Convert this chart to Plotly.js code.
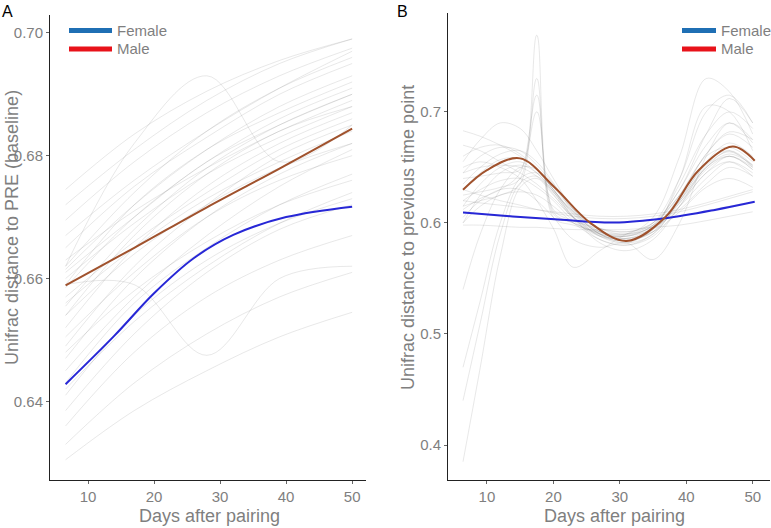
<!DOCTYPE html>
<html>
<head>
<meta charset="utf-8">
<script src="https://cdn.plot.ly/plotly-3.0.1.min.js"></script>
<style>html,body{margin:0;padding:0;background:#fff;}#chart{width:771px;height:528px;}</style>
</head>
<body>
<div id="chart"></div>
<script>
// ---------- Panel A data ----------
const daysA = [6.6, 17, 28, 39, 50];
const greyLinesA = [
  [0.6305, 0.6385, 0.6450, 0.6505, 0.6545],
  [0.6330, 0.6430, 0.6510, 0.6570, 0.6610],
  [0.6360, 0.6480, 0.6570, 0.6630, 0.6670],
  [0.6385, 0.6510, 0.6610, 0.6680, 0.6720],
  [0.6410, 0.6540, 0.6630, 0.6690, 0.6730],
  [0.6430, 0.6560, 0.6650, 0.6720, 0.6770],
  [0.6450, 0.6570, 0.6670, 0.6750, 0.6810],
  [0.6470, 0.6600, 0.6700, 0.6770, 0.6820],
  [0.6490, 0.6620, 0.6720, 0.6800, 0.6850],
  [0.6505, 0.6610, 0.6700, 0.6760, 0.6800],
  [0.6520, 0.6650, 0.6750, 0.6820, 0.6870],
  [0.6540, 0.6640, 0.6720, 0.6780, 0.6820],
  [0.6555, 0.6680, 0.6780, 0.6850, 0.6900],
  [0.6570, 0.6660, 0.6740, 0.6810, 0.6860],
  [0.6585, 0.6700, 0.6790, 0.6860, 0.6910],
  [0.6600, 0.6690, 0.6770, 0.6830, 0.6880],
  [0.6615, 0.6720, 0.6810, 0.6880, 0.6930],
  [0.6630, 0.6710, 0.6780, 0.6840, 0.6890],
  [0.6650, 0.6750, 0.6830, 0.6900, 0.6950],
  [0.6670, 0.6760, 0.6840, 0.6910, 0.6970],
  [0.6695, 0.6790, 0.6870, 0.6930, 0.6975],
  [0.6720, 0.6810, 0.6890, 0.6950, 0.6990],
  [0.6745, 0.6835, 0.6905, 0.6955, 0.6990],
  [0.6620, 0.6820, 0.6930, 0.6790, 0.6850],
  [0.6590, 0.6590, 0.6475, 0.6600, 0.6620],
  [0.6480, 0.6580, 0.6660, 0.6720, 0.6760],
  [0.6540, 0.6670, 0.6770, 0.6840, 0.6880],
  [0.6590, 0.6720, 0.6810, 0.6870, 0.6920],
  [0.6420, 0.6530, 0.6620, 0.6690, 0.6740],
  [0.6620, 0.6740, 0.6840, 0.6910, 0.6960],
  [0.6560, 0.6650, 0.6730, 0.6790, 0.6840],
  [0.6610, 0.6700, 0.6790, 0.6850, 0.6900]
];
const maleDaysA = [6.6, 17, 28, 39, 50];
const maleValsA = [0.6589, 0.6650, 0.6716, 0.6779, 0.6844];
const femaleDaysA = [6.6, 14, 20, 26, 32, 40, 50];
const femaleValsA = [0.6428, 0.6507, 0.6576, 0.6633, 0.6671, 0.6700, 0.6717];

// ---------- Panel B data ----------
const daysB = [6.4, 9, 12, 15, 17.5, 20, 23, 27, 31, 35, 39, 43, 46.5, 50];
const greyLinesB = [
  [0.630, 0.645, 0.657, 0.658, 0.648, 0.630, 0.610, 0.590, 0.585, 0.592, 0.625, 0.660, 0.668, 0.655],
  [0.615, 0.635, 0.650, 0.655, 0.645, 0.628, 0.605, 0.585, 0.580, 0.590, 0.620, 0.655, 0.672, 0.660],
  [0.645, 0.660, 0.668, 0.665, 0.652, 0.635, 0.612, 0.592, 0.588, 0.598, 0.630, 0.670, 0.690, 0.672],
  [0.660, 0.668, 0.670, 0.662, 0.648, 0.630, 0.608, 0.588, 0.582, 0.595, 0.635, 0.680, 0.700, 0.685],
  [0.600, 0.625, 0.645, 0.652, 0.645, 0.628, 0.605, 0.582, 0.575, 0.585, 0.615, 0.650, 0.660, 0.648],
  [0.683, 0.678, 0.670, 0.660, 0.648, 0.632, 0.612, 0.595, 0.590, 0.600, 0.640, 0.700, 0.715, 0.690],
  [0.625, 0.628, 0.632, 0.640, 0.769, 0.610, 0.600, 0.590, 0.588, 0.595, 0.615, 0.640, 0.655, 0.645],
  [0.615, 0.620, 0.625, 0.635, 0.730, 0.605, 0.598, 0.592, 0.590, 0.596, 0.612, 0.635, 0.650, 0.642],
  [0.640, 0.642, 0.645, 0.648, 0.700, 0.612, 0.602, 0.595, 0.592, 0.598, 0.620, 0.650, 0.665, 0.652],
  [0.385, 0.470, 0.570, 0.632, 0.640, 0.625, 0.605, 0.590, 0.588, 0.598, 0.625, 0.655, 0.665, 0.650],
  [0.470, 0.530, 0.600, 0.640, 0.645, 0.630, 0.608, 0.592, 0.586, 0.594, 0.620, 0.650, 0.662, 0.652],
  [0.540, 0.590, 0.630, 0.650, 0.648, 0.630, 0.606, 0.588, 0.584, 0.592, 0.618, 0.648, 0.660, 0.650],
  [0.610, 0.608, 0.606, 0.605, 0.604, 0.603, 0.602, 0.601, 0.601, 0.603, 0.606, 0.611, 0.615, 0.619],
  [0.620, 0.618, 0.616, 0.614, 0.612, 0.610, 0.608, 0.606, 0.606, 0.608, 0.612, 0.618, 0.624, 0.630],
  [0.598, 0.598, 0.597, 0.596, 0.596, 0.595, 0.594, 0.594, 0.594, 0.596, 0.598, 0.602, 0.606, 0.610],
  [0.630, 0.625, 0.620, 0.616, 0.612, 0.609, 0.606, 0.604, 0.604, 0.606, 0.610, 0.616, 0.622, 0.628],
  [0.650, 0.655, 0.650, 0.640, 0.620, 0.595, 0.560, 0.575, 0.590, 0.600, 0.630, 0.680, 0.712, 0.690],
  [0.605, 0.620, 0.630, 0.630, 0.620, 0.605, 0.585, 0.578, 0.582, 0.567, 0.600, 0.660, 0.690, 0.675],
  [0.670, 0.665, 0.655, 0.645, 0.635, 0.622, 0.605, 0.592, 0.590, 0.605, 0.660, 0.730, 0.718, 0.680],
  [0.635, 0.650, 0.662, 0.665, 0.655, 0.636, 0.610, 0.590, 0.584, 0.594, 0.640, 0.705, 0.700, 0.665],
  [0.620, 0.630, 0.638, 0.640, 0.632, 0.620, 0.602, 0.588, 0.586, 0.592, 0.610, 0.632, 0.640, 0.632],
  [0.655, 0.675, 0.690, 0.685, 0.665, 0.640, 0.612, 0.590, 0.582, 0.590, 0.622, 0.662, 0.680, 0.668],
  [0.600, 0.615, 0.625, 0.628, 0.625, 0.615, 0.600, 0.585, 0.580, 0.588, 0.615, 0.645, 0.655, 0.642],
  [0.645, 0.650, 0.652, 0.650, 0.642, 0.628, 0.610, 0.595, 0.592, 0.600, 0.625, 0.662, 0.682, 0.675],
  [0.440, 0.510, 0.590, 0.636, 0.642, 0.626, 0.604, 0.589, 0.586, 0.596, 0.622, 0.652, 0.664, 0.651],
  [0.612, 0.622, 0.630, 0.645, 0.715, 0.608, 0.600, 0.591, 0.589, 0.597, 0.618, 0.645, 0.660, 0.648]
];
const maleDaysB = [6.4, 10, 15, 20.2, 25.5, 31, 36.8, 41.8, 47, 50.3];
const maleValsB = [0.6298, 0.6476, 0.6581, 0.6319, 0.6003, 0.5837, 0.6048, 0.6470, 0.6687, 0.6560];
const femaleDaysB = [6.4, 13, 20.2, 29.2, 36.8, 44.3, 50.3];
const femaleValsB = [0.6093, 0.6062, 0.6033, 0.6003, 0.6042, 0.6117, 0.6190];

const legendLabels = ['Female', 'Male'];
const xTicks = [10, 20, 30, 40, 50];
const yTicksA = [0.64, 0.66, 0.68, 0.70];
const yTicksB = [0.4, 0.5, 0.6, 0.7];

// ---------- styles ----------
const W = 771, H = 528;
const px = v => v / W;
const py = v => 1 - v / H;
const GREY_TXT = '#7f7f7f';
const FONT = 'Liberation Sans, Arial, Helvetica, sans-serif';
const greyLine = {color: 'rgba(100,100,100,0.15)', width: 1, shape: 'spline', smoothing: 1};
const maleColor = '#a0522d';
const femaleColor = '#2727d6';

const traces = [];
greyLinesA.forEach(v => traces.push({x: daysA, y: v, xaxis: 'x', yaxis: 'y', mode: 'lines', line: greyLine, hoverinfo: 'skip', showlegend: false}));
traces.push({x: maleDaysA, y: maleValsA, xaxis: 'x', yaxis: 'y', mode: 'lines', line: {color: maleColor, width: 2, shape: 'spline'}, showlegend: false, name: 'Male'});
traces.push({x: femaleDaysA, y: femaleValsA, xaxis: 'x', yaxis: 'y', mode: 'lines', line: {color: femaleColor, width: 2, shape: 'spline', smoothing: 1}, showlegend: false, name: 'Female'});
greyLinesB.forEach(v => traces.push({x: daysB, y: v, xaxis: 'x2', yaxis: 'y2', mode: 'lines', line: greyLine, hoverinfo: 'skip', showlegend: false}));
traces.push({x: femaleDaysB, y: femaleValsB, xaxis: 'x2', yaxis: 'y2', mode: 'lines', line: {color: femaleColor, width: 2, shape: 'spline'}, showlegend: false, name: 'Female'});
traces.push({x: maleDaysB, y: maleValsB, xaxis: 'x2', yaxis: 'y2', mode: 'lines', line: {color: maleColor, width: 2, shape: 'spline'}, showlegend: false, name: 'Male'});

const axisCommon = {
  showline: true, linecolor: '#222', linewidth: 1, showgrid: false, zeroline: false,
  ticks: 'outside', ticklen: 3, tickcolor: '#666', tickwidth: 1,
  tickfont: {family: FONT, size: 15, color: GREY_TXT}
};

const layout = {
  width: W, height: H,
  margin: {l: 0, r: 0, t: 0, b: 0},
  paper_bgcolor: '#fff', plot_bgcolor: '#fff',
  showlegend: false,
  font: {family: FONT, color: GREY_TXT},
  xaxis: Object.assign({}, axisCommon, {domain: [px(50), px(366)], range: [4.24, 52.1], tickvals: xTicks, anchor: 'y'}),
  yaxis: Object.assign({}, axisCommon, {domain: [1 - 480 / H, 1 - 15 / H], range: [0.6272, 0.7029], tickvals: yTicksA, tickformat: '.2f', anchor: 'x'}),
  xaxis2: Object.assign({}, axisCommon, {domain: [px(448), px(770)], range: [4.14, 52.6], tickvals: xTicks, anchor: 'y2'}),
  yaxis2: Object.assign({}, axisCommon, {domain: [1 - 480 / H, 1 - 13 / H], range: [0.3685, 0.789], tickvals: yTicksB, tickformat: '.1f', anchor: 'x2'}),
  shapes: [
    {type: 'line', xref: 'paper', yref: 'paper', x0: px(69), x1: px(112), y0: py(30.5), y1: py(30.5), line: {color: '#1f6fb4', width: 5}},
    {type: 'line', xref: 'paper', yref: 'paper', x0: px(69), x1: px(112), y0: py(49), y1: py(49), line: {color: '#e8121a', width: 5}},
    {type: 'line', xref: 'paper', yref: 'paper', x0: px(682), x1: px(716), y0: py(30.5), y1: py(30.5), line: {color: '#1f6fb4', width: 5}},
    {type: 'line', xref: 'paper', yref: 'paper', x0: px(682), x1: px(716), y0: py(49), y1: py(49), line: {color: '#e8121a', width: 5}}
  ],
  annotations: [
    {text: 'A', xref: 'paper', yref: 'paper', x: px(0), y: py(1), xanchor: 'left', yanchor: 'top', showarrow: false, font: {family: FONT, size: 16, color: '#000'}},
    {text: 'B', xref: 'paper', yref: 'paper', x: px(395), y: py(1), xanchor: 'left', yanchor: 'top', showarrow: false, font: {family: FONT, size: 16, color: '#000'}},
    {text: legendLabels[0], xref: 'paper', yref: 'paper', x: px(115), y: py(30.5), xanchor: 'left', yanchor: 'middle', showarrow: false, font: {family: FONT, size: 15, color: GREY_TXT}},
    {text: legendLabels[1], xref: 'paper', yref: 'paper', x: px(115), y: py(49), xanchor: 'left', yanchor: 'middle', showarrow: false, font: {family: FONT, size: 15, color: GREY_TXT}},
    {text: legendLabels[0], xref: 'paper', yref: 'paper', x: px(719), y: py(30.5), xanchor: 'left', yanchor: 'middle', showarrow: false, font: {family: FONT, size: 15, color: GREY_TXT}},
    {text: legendLabels[1], xref: 'paper', yref: 'paper', x: px(719), y: py(49), xanchor: 'left', yanchor: 'middle', showarrow: false, font: {family: FONT, size: 15, color: GREY_TXT}},
    {text: 'Days after pairing', xref: 'paper', yref: 'paper', x: px(210), y: py(516), xanchor: 'center', yanchor: 'middle', showarrow: false, font: {family: FONT, size: 18, color: GREY_TXT}},
    {text: 'Days after pairing', xref: 'paper', yref: 'paper', x: px(614), y: py(516), xanchor: 'center', yanchor: 'middle', showarrow: false, font: {family: FONT, size: 18, color: GREY_TXT}},
    {text: 'Unifrac distance to PRE (baseline)', xref: 'paper', yref: 'paper', x: px(12), y: py(228), xanchor: 'center', yanchor: 'middle', textangle: -90, showarrow: false, font: {family: FONT, size: 18, color: GREY_TXT}},
    {text: 'Unifrac distance to previous time point', xref: 'paper', yref: 'paper', x: px(408), y: py(238), xanchor: 'center', yanchor: 'middle', textangle: -90, showarrow: false, font: {family: FONT, size: 18, color: GREY_TXT}}
  ]
};

Plotly.newPlot('chart', traces, layout, {displayModeBar: false, staticPlot: true});
</script>
</body>
</html>
